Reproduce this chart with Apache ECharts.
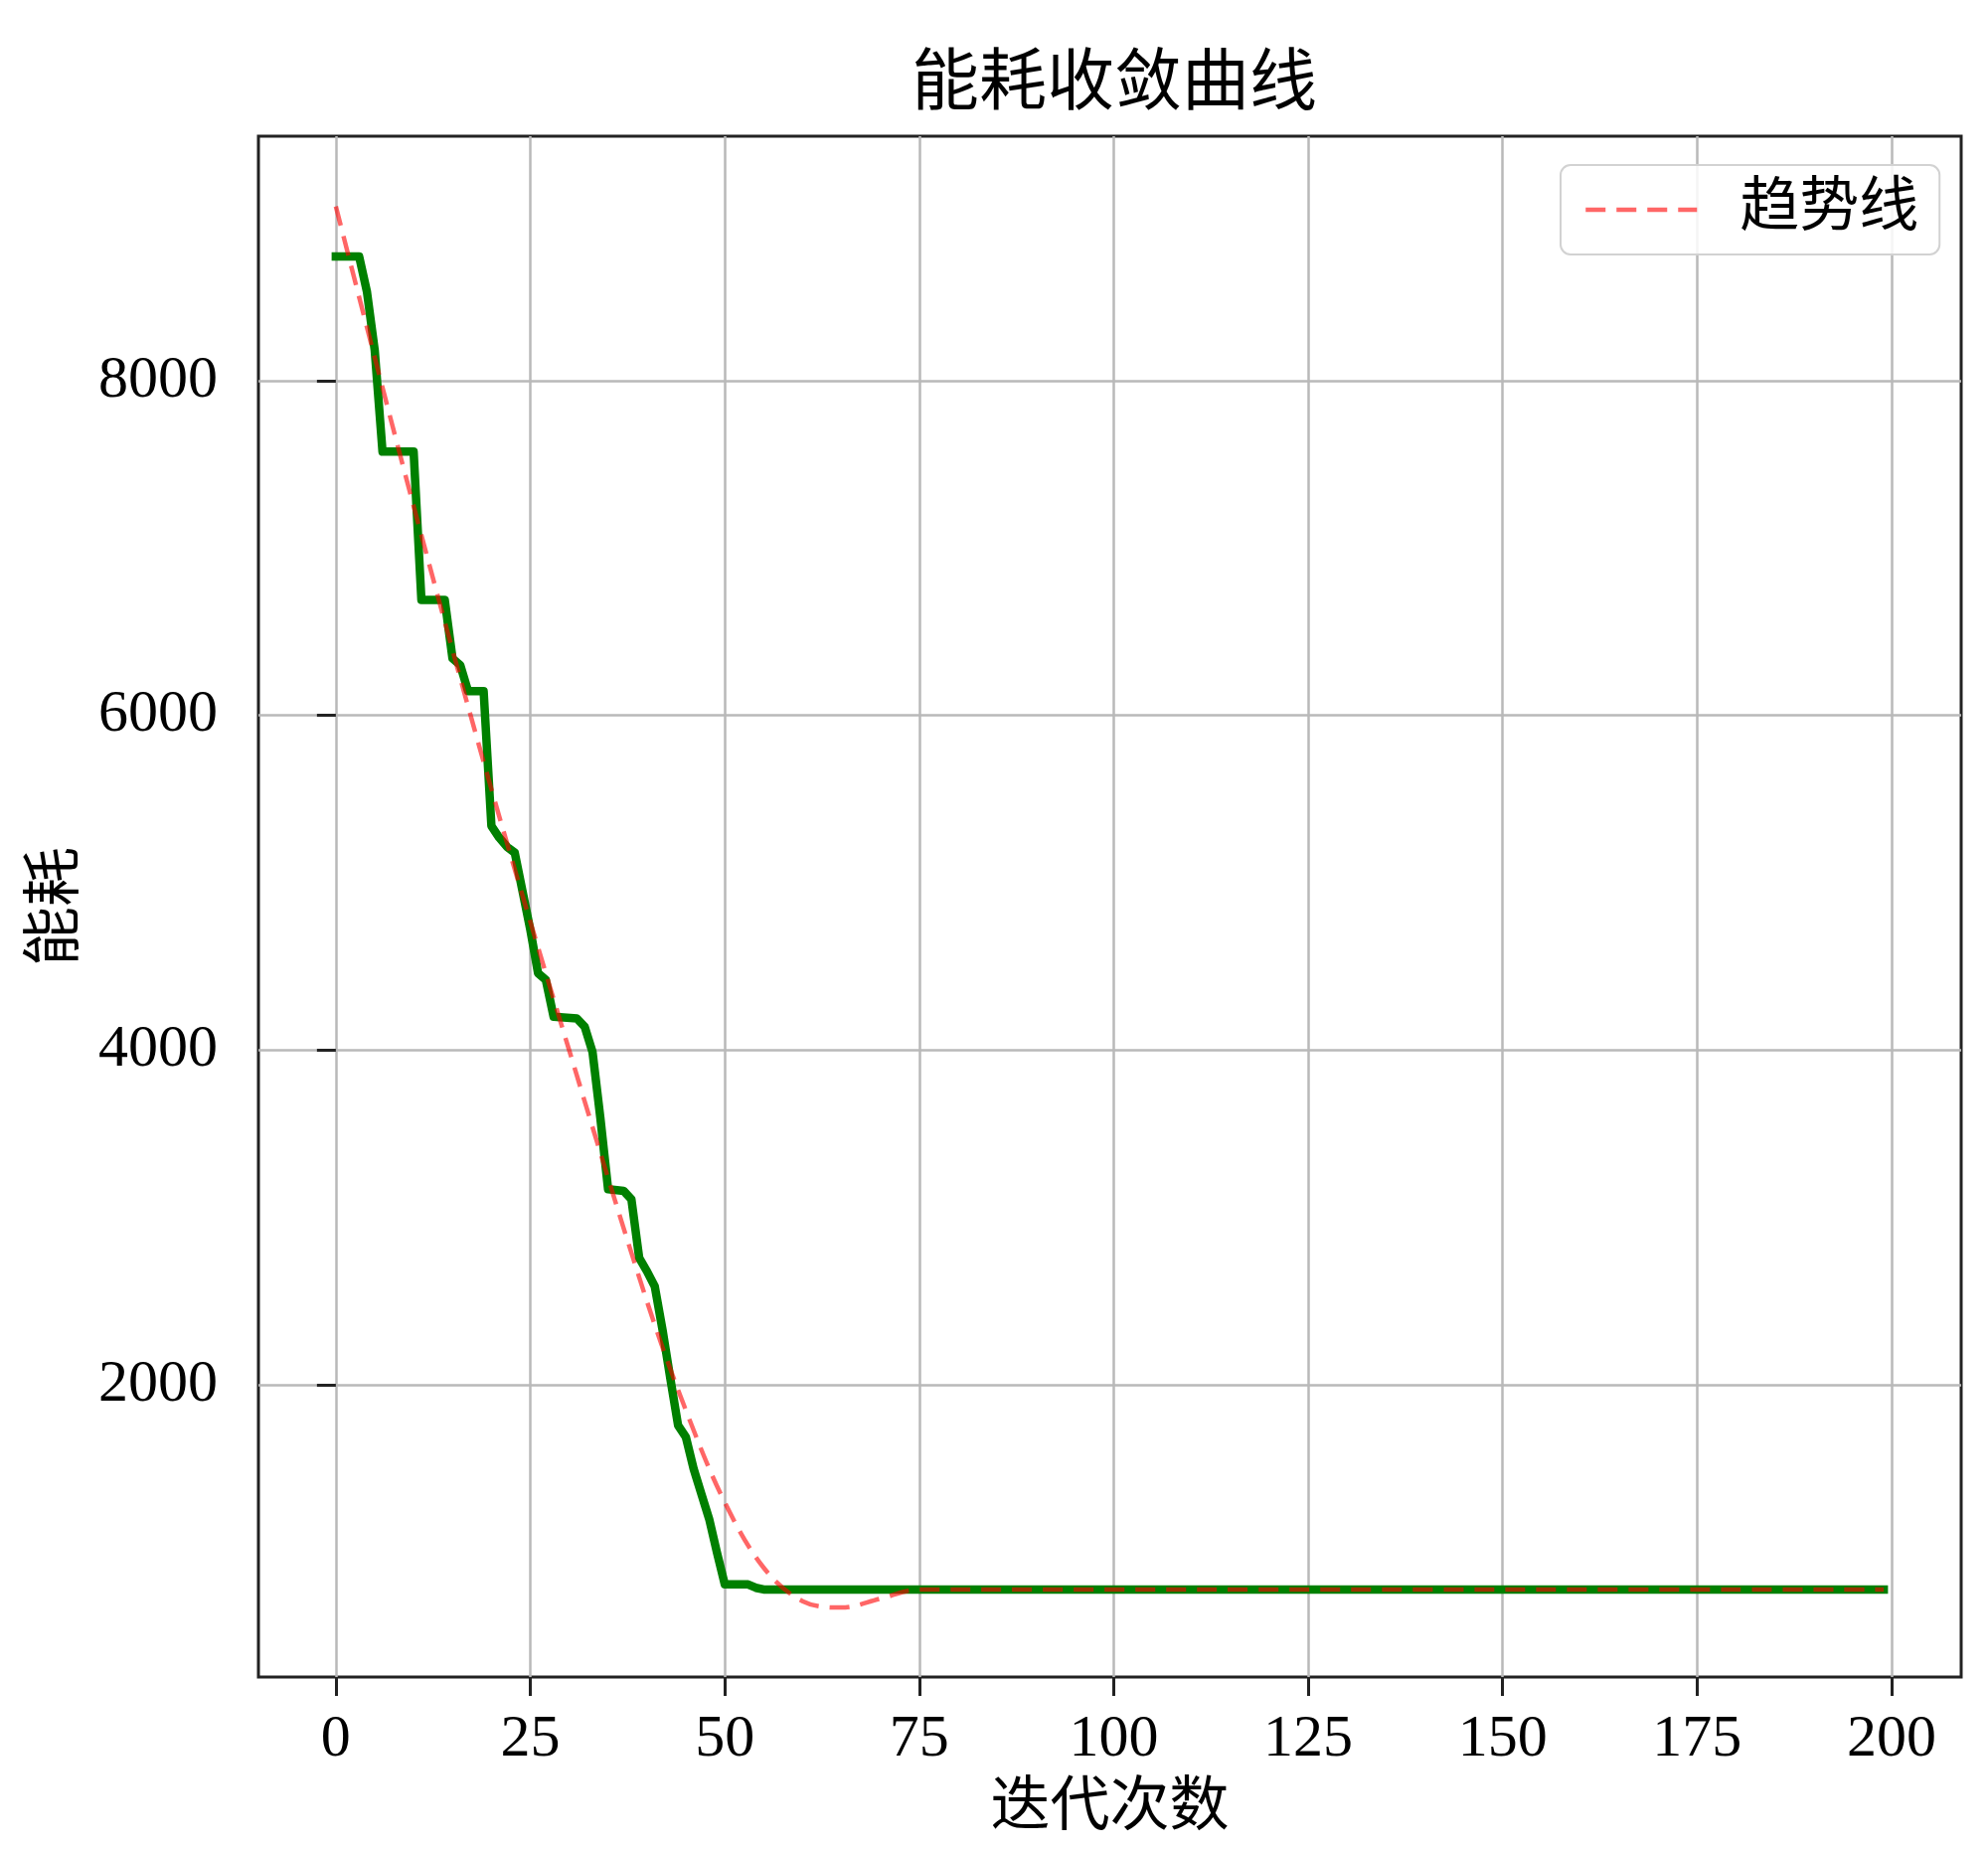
<!DOCTYPE html>
<html>
<head>
<meta charset="utf-8">
<script src="https://cdn.jsdelivr.net/npm/echarts@6/dist/echarts.min.js"></script>
<style>html,body{margin:0;padding:0;background:#fff;}#chart{width:2000px;height:1862px;}</style>
</head>
<body>
<div id="chart"></div>
<script>
// ---- data ----
const titleText = '能耗收敛曲线';
const xName = '迭代次数';
const yName = '能耗';
const legendName = '趋势线';
const xTicks = [0, 25, 50, 75, 100, 125, 150, 175, 200];
const yTicks = [2000, 4000, 6000, 8000];

// best energy per iteration (step-wise convergence curve)
const bestIter   = [0, 3, 4, 5, 6, 10, 11, 14, 15, 16, 17, 19, 20, 21, 22, 23, 24, 25, 26, 27, 28, 31, 32, 33, 34, 35, 37, 38, 39, 40, 41, 42, 43, 44, 45, 46, 47, 48, 49, 50, 53, 54, 55, 199];
const bestEnergy = [8740, 8740, 8530, 8180, 7575, 7575, 6690, 6690, 6340, 6300, 6145, 6145, 5340, 5270, 5215, 5180, 4950, 4720, 4460, 4420, 4200, 4190, 4140, 3990, 3600, 3170, 3160, 3110, 2760, 2680, 2590, 2330, 2040, 1760, 1690, 1500, 1350, 1200, 1000, 810, 810, 790, 780, 780];

// trend line
const trendIter   = [0, 10, 20, 30, 40, 45, 50, 55, 60, 65, 70, 75, 85, 199];
const trendEnergy = [9040, 7250, 5560, 4000, 2500, 1850, 1300, 910, 710, 672, 725, 780, 780, 780];

const bestData = bestIter.map((x, i) => [x, bestEnergy[i]]);
const trendData = trendIter.map((x, i) => [x, trendEnergy[i]]);

const serif = '"Liberation Serif", "Times New Roman", "Noto Sans CJK SC", serif';
const trendColor = 'rgba(255,0,0,0.6)';
const gridColor = '#b9b9b9';

const chart = echarts.init(document.getElementById('chart'), null, {renderer: 'canvas'});
chart.setOption({
  backgroundColor: '#fff',
  animation: false,
  title: {
    text: titleText,
    left: 1116,
    textAlign: 'center',
    top: 48,
    textStyle: {fontFamily: serif, fontSize: 68, fontWeight: 'normal', color: '#000'}
  },
  legend: {
    data: [legendName],
    left: 1570,
    top: 166,
    orient: 'vertical',
    padding: [15, 21, 15, 23],
    itemWidth: 112,
    itemHeight: 40,
    backgroundColor: 'rgba(255,255,255,0.85)',
    borderColor: '#d2d2d2',
    borderWidth: 2,
    borderRadius: 10,
    itemStyle: {opacity: 0},
    lineStyle: {color: trendColor, width: 4.5, type: [20, 11]},
    textStyle: {fontFamily: serif, fontSize: 60, color: '#000', padding: [0, 0, 0, 38], lineHeight: 60}
  },
  grid: {
    left: 260, right: 27, top: 137, bottom: 175,
    show: true, borderColor: '#222', borderWidth: 3, backgroundColor: 'transparent'
  },
  xAxis: {
    type: 'value',
    min: -9.95, max: 208.95,
    name: xName,
    nameLocation: 'middle',
    nameGap: 103,
    nameTextStyle: {fontFamily: serif, fontSize: 60, color: '#000'},
    axisLine: {show: false},
    axisTick: {show: true, customValues: xTicks, length: 19, lineStyle: {color: '#222', width: 3}},
    axisLabel: {customValues: xTicks, margin: 33, fontFamily: serif, fontSize: 60, color: '#000',
      formatter: v => String(v)},
    splitLine: {show: true, lineStyle: {color: gridColor, width: 2.5}}
  },
  yAxis: {
    type: 'value',
    min: 257, max: 9459,
    name: yName,
    nameLocation: 'middle',
    nameRotate: 90,
    nameGap: 151,
    nameTextStyle: {fontFamily: serif, fontSize: 60, color: '#000'},
    axisLine: {show: false},
    axisTick: {show: true, customValues: yTicks, length: 19, lineStyle: {color: '#222', width: 3}},
    axisLabel: {customValues: yTicks, margin: 41, fontFamily: serif, fontSize: 60, color: '#000',
      formatter: v => String(v)},
    splitLine: {show: true, lineStyle: {color: gridColor, width: 2.5}}
  },
  series: [
    {
      name: '能耗',
      type: 'line',
      data: bestData,
      symbol: 'none',
      lineStyle: {color: '#008000', width: 8.5, cap: 'square', join: 'round'},
      z: 3
    },
    {
      name: legendName,
      type: 'line',
      data: trendData,
      symbol: 'none',
      smooth: 0.35,
      lineStyle: {color: trendColor, width: 4.5, type: [20, 11]},
      itemStyle: {color: trendColor},
      z: 4
    }
  ]
});
</script>
</body>
</html>
